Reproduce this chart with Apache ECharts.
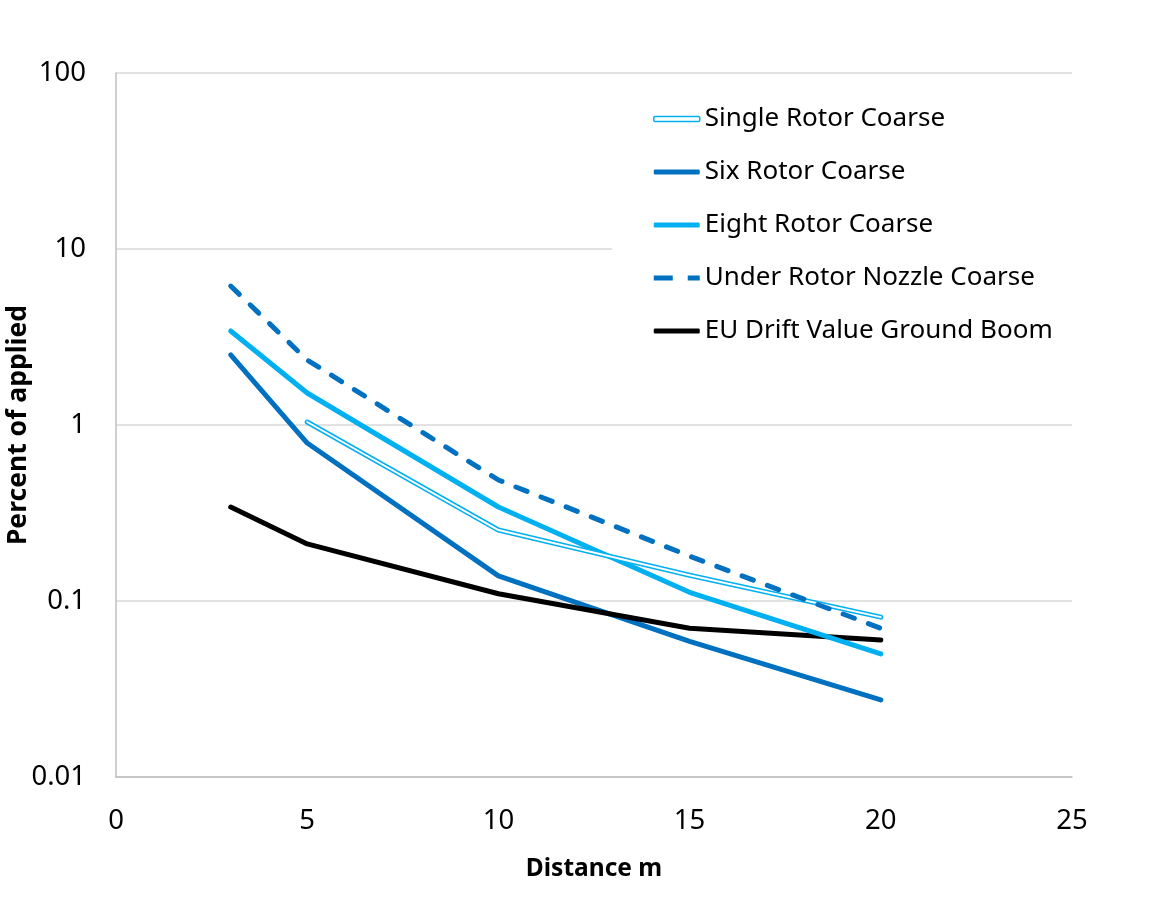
<!DOCTYPE html>
<html>
<head>
<meta charset="utf-8">
<script src="https://cdn.jsdelivr.net/npm/echarts@6/dist/echarts.min.js"></script>
<style>
  html, body { margin: 0; padding: 0; background: #fff; }
  #chart { width: 1159px; height: 916px; }
</style>
</head>
<body>
<div id="chart"></div>
<script>
// Downwind drift deposition, percent of applied dose by distance
const distances = [3, 5, 10, 15, 20];
const singleRotor = [null, 1.04, 0.253, 0.14, 0.081];
const sixRotor = [2.5, 0.79, 0.139, 0.059, 0.0274];
const eightRotor = [3.42, 1.52, 0.342, 0.112, 0.05];
const underRotorNozzle = [6.16, 2.34, 0.487, 0.18, 0.07];
const euDriftGroundBoom = [0.342, 0.211, 0.11, 0.07, 0.06];

const yTicks = ['0.01', '0.1', '1', '10', '100'];
const xTicks = ['0', '5', '10', '15', '20', '25'];

const FONT = 'Noto Sans';
const pairs = vals => distances.map((d, i) => [d, vals[i]]).filter(p => p[1] != null);

const lineSeries = (name, vals, color, extra) => Object.assign({
  name: name,
  type: 'line',
  data: pairs(vals),
  symbol: 'none',
  smooth: false,
  itemStyle: { color: color },
  lineStyle: { color: color, width: 5, cap: 'round', join: 'round' },
  emphasis: { disabled: true },
  z: 3
}, extra || {});

const chart = echarts.init(document.getElementById('chart'), null, { renderer: 'canvas' });

chart.setOption({
  animation: false,
  backgroundColor: '#fff',
  grid: { left: 116, top: 73, width: 956, height: 704, containLabel: false, outerBoundsMode: 'none' },
  xAxis: {
    type: 'value',
    min: 0, max: 25, interval: 5,
    name: 'Distance m',
    nameLocation: 'middle',
    nameGap: 80,
    nameMoveOverlap: false,
    nameTextStyle: { fontFamily: FONT, fontSize: 24.5, fontWeight: 'bold', color: '#000' },
    axisLine: { show: true, lineStyle: { color: '#BFBFBF', width: 1.5 } },
    axisTick: { show: false },
    splitLine: { show: false },
    axisLabel: {
      margin: 30,
      fontFamily: FONT, fontSize: 27.5, color: '#000',
      formatter: v => xTicks[Math.round(v / 5)]
    }
  },
  yAxis: {
    type: 'log',
    logBase: 10,
    min: 0.01, max: 100,
    name: 'Percent of applied',
    nameLocation: 'middle',
    nameGap: 84,
    nameMoveOverlap: false,
    nameTextStyle: { fontFamily: FONT, fontSize: 26.5, fontWeight: 'bold', color: '#000' },
    axisLine: { show: true, lineStyle: { color: '#BFBFBF', width: 1.5 } },
    axisTick: { show: false },
    splitLine: { show: true, lineStyle: { color: '#D9D9D9', width: 1.5 } },
    axisLabel: {
      margin: 30,
      fontFamily: FONT, fontSize: 27.5, color: '#000',
      formatter: v => yTicks[Math.round(Math.log10(v)) + 2]
    }
  },
  legend: {
    orient: 'vertical',
    left: 612,
    top: 89,
    padding: [15, 40, 15, 41],
    backgroundColor: '#fff',
    itemWidth: 46,
    itemHeight: 5,
    itemGap: 23,
    symbolKeepAspect: false,
    textStyle: { fontFamily: FONT, fontSize: 26, color: '#000', lineHeight: 30 },
    selectedMode: false,
    data: [
      { name: 'Single Rotor Coarse', icon: 'roundRect',
        itemStyle: { color: '#fff', borderColor: '#00B0F0', borderWidth: 1.5 } },
      { name: 'Six Rotor Coarse', icon: 'roundRect' },
      { name: 'Eight Rotor Coarse', icon: 'roundRect' },
      { name: 'Under Rotor Nozzle Coarse',
        icon: 'path://M0,0H19V5H0Z M34,0H46V5H34Z' },
      { name: 'EU Drift Value Ground Boom', icon: 'roundRect' }
    ]
  },
  series: [
    lineSeries('Six Rotor Coarse', sixRotor, '#0070C0'),
    lineSeries('EU Drift Value Ground Boom', euDriftGroundBoom, '#000000'),
    lineSeries('Eight Rotor Coarse', eightRotor, '#00B0F0'),
    lineSeries('Single Rotor Coarse', singleRotor, '#00B0F0', { z: 4 }),
    // white core that turns the single rotor line into a double line
    lineSeries('Single Rotor Coarse core', singleRotor, '#FFFFFF', {
      z: 5,
      lineStyle: { color: '#FFFFFF', width: 2, cap: 'round', join: 'round' }
    }),
    lineSeries('Under Rotor Nozzle Coarse', underRotorNozzle, '#0070C0', {
      z: 6,
      lineStyle: { color: '#0070C0', width: 5, cap: 'round', type: [12, 15] }
    })
  ]
});
</script>
</body>
</html>
